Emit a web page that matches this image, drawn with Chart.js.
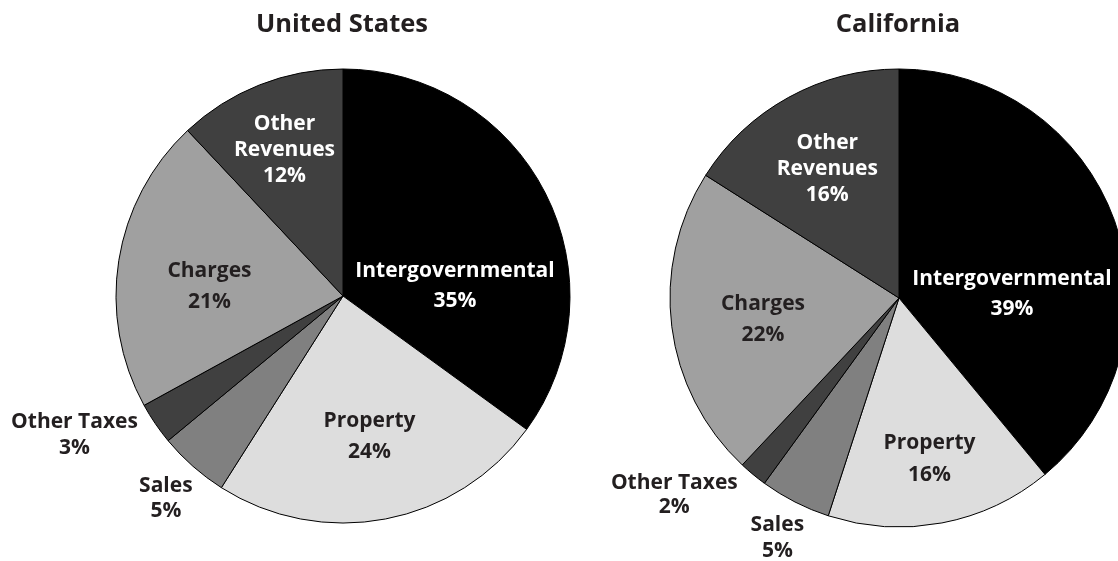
<!DOCTYPE html>
<html lang="en">
<head>
    <meta charset="UTF-8">
    <title>Revenue Sources: United States and California</title>
    <style>
        html, body {
            margin: 0;
            padding: 0;
            background: #ffffff;
            overflow: hidden;
        }

        .page {
            position: relative;
            width: 1118px;
            height: 561px;
            overflow: hidden;
        }

        canvas {
            position: absolute;
            top: 0;
        }

        #usChart { left: 0; }
        #caChart { left: 580px; }
    </style>
    <script src="https://cdn.jsdelivr.net/npm/chart.js"></script>
</head>
<body>

    <div class="page">
        <canvas id="usChart" width="600" height="561"></canvas>
        <canvas id="caChart" width="560" height="561"></canvas>
    </div>

    <script>
        // Revenue shares (%), clockwise from 12 o'clock
        const categories = ['Intergovernmental', 'Property', 'Sales', 'Other Taxes', 'Charges', 'Other Revenues'];
        const usShares = [35, 24, 5, 3, 21, 12];
        const caShares = [39, 16, 5, 2, 22, 16];
        const chartTitles = ['United States', 'California'];

        const sliceColors = ['#000000', '#dddddd', '#808080', '#404040', '#a0a0a0', '#404040'];
        const labelColors = ['#ffffff', '#231f20', '#231f20', '#231f20', '#231f20', '#ffffff'];
        const darkText = '#231f20';
        const fontFamily = "'Open Sans', sans-serif";

        // where each label sits: fraction of the radius, angle nudge (deg), line spacing (px)
        const usLabelLayout = {
            radius: [0.496, 0.624, 1.18, 1.33, 0.59, 0.70],
            shift: [21, 0, 0, 7, -4.5, 0],
            gap: [30, 31, 25, 26, 31, 26]
        };
        const caLabelLayout = {
            radius: [0.494, 0.71, 1.17, 1.30, 0.60, 0.65],
            shift: [17, 0, 0, 9.4, -1, 0],
            gap: [30, 32, 26, 24, 31, 26]
        };

        function labelLines(name) {
            return name === 'Other Revenues' ? ['Other', 'Revenues'] : [name];
        }

        const sliceLabels = {
            id: 'sliceLabels',
            afterDatasetsDraw(chart, args, opts) {
                const ctx = chart.ctx;
                const meta = chart.getDatasetMeta(0);
                const values = chart.data.datasets[0].data;
                const layout = opts.layout;
                const size = 21;
                const capH = size * 0.714;

                ctx.save();
                ctx.textAlign = 'center';
                ctx.textBaseline = 'alphabetic';
                ctx.font = 'bold ' + size + 'px ' + fontFamily;

                meta.data.forEach((arc, i) => {
                    const props = arc.getProps(['x', 'y', 'startAngle', 'endAngle', 'outerRadius'], true);
                    const mid = (props.startAngle + props.endAngle) / 2 + layout.shift[i] * Math.PI / 180;
                    const r = props.outerRadius * layout.radius[i];
                    const px = props.x + Math.cos(mid) * r;
                    const py = props.y + Math.sin(mid) * r;

                    const lines = labelLines(chart.data.labels[i]).concat([values[i] + '%']);
                    const gap = layout.gap[i];
                    const block = (lines.length - 1) * gap + capH;
                    const first = py - block / 2 + capH;

                    ctx.fillStyle = labelColors[i];
                    lines.forEach((t, k) => ctx.fillText(t, px, first + k * gap));
                });

                // chart heading above the pie
                const c = meta.data[0];
                ctx.fillStyle = darkText;
                ctx.font = 'bold 25.5px ' + fontFamily;
                ctx.fillText(opts.title, c.x - 1, 32);
                ctx.restore();
            }
        };

        function makePie(id, shares, title, layout, padding) {
            const ctx = document.getElementById(id).getContext('2d');
            return new Chart(ctx, {
                type: 'pie',
                data: {
                    labels: categories,
                    datasets: [{
                        data: shares,
                        backgroundColor: sliceColors,
                        borderColor: '#000000',
                        borderWidth: 1,
                        hoverBorderWidth: 1,
                        hoverOffset: 0
                    }]
                },
                options: {
                    animation: false,
                    responsive: false,
                    events: [],
                    layout: { padding: padding },
                    plugins: {
                        legend: { display: false },
                        tooltip: { enabled: false },
                        sliceLabels: { title: title, layout: layout }
                    }
                },
                plugins: [sliceLabels]
            });
        }

        makePie('usChart', usShares, chartTitles[0], usLabelLayout,
            { left: 115.5, top: 68.5, right: 29.5, bottom: 37.5 });
        makePie('caChart', caShares, chartTitles[1], caLabelLayout,
            { left: 89.5, top: 68.5, right: 11.5, bottom: 33.5 });
    </script>

</body>
</html>
